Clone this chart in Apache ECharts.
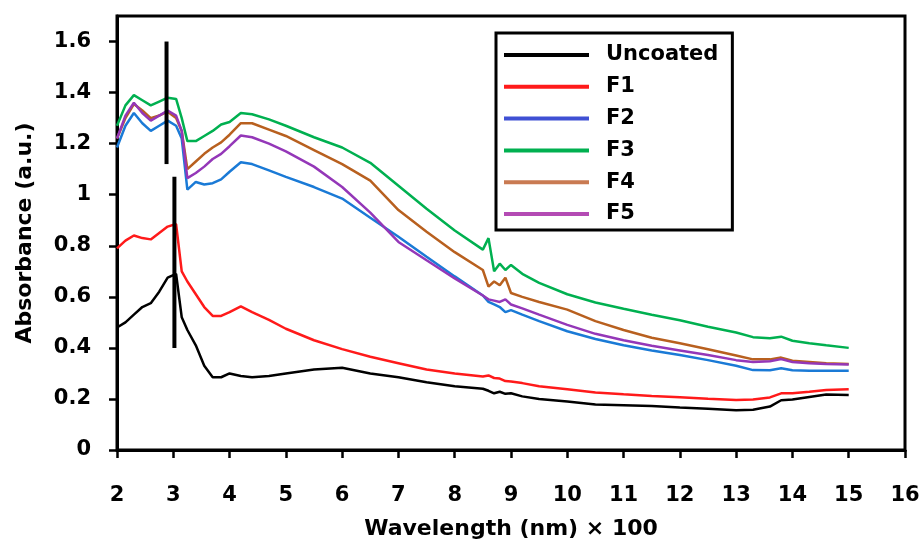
<!DOCTYPE html>
<html>
<head>
<meta charset="utf-8">
<script src="https://cdn.jsdelivr.net/npm/echarts@6/dist/echarts.min.js"></script>
<style>
  html, body { margin: 0; padding: 0; background: #fff; }
  #chart { width: 924px; height: 545px; }
</style>
</head>
<body>
<div id="chart"></div>
<script>
// wavelength (nm x 100), shared by all curves
var wavelength = [2.0, 2.15, 2.3, 2.45, 2.6, 2.75, 2.9, 3.05, 3.15, 3.25, 3.4, 3.55, 3.7, 3.85, 4.0, 4.2, 4.4, 4.7,
                  5.0, 5.5, 6.0, 6.5, 7.0, 7.5, 8.0, 8.5, 8.6, 8.7, 8.8, 8.9, 9.0, 9.2, 9.5, 10, 10.5, 11, 11.5,
                  12, 12.5, 13, 13.3, 13.6, 13.8, 14, 14.3, 14.6, 15];

var uncoated = [0.48, 0.50, 0.53, 0.56, 0.575, 0.62, 0.675, 0.69, 0.52, 0.47, 0.41, 0.33, 0.285, 0.285, 0.30, 0.29, 0.285, 0.29,
                0.30, 0.315, 0.322, 0.30, 0.285, 0.265, 0.25, 0.24, 0.232, 0.222, 0.228, 0.22, 0.222, 0.21, 0.20, 0.19, 0.178, 0.175, 0.172,
                0.166, 0.162, 0.156, 0.158, 0.17, 0.195, 0.198, 0.208, 0.217, 0.215];
var f1 = [0.79, 0.82, 0.84, 0.83, 0.825, 0.85, 0.875, 0.885, 0.70, 0.66, 0.61, 0.56, 0.525, 0.525, 0.54, 0.563, 0.54, 0.51,
          0.475, 0.43, 0.395, 0.365, 0.34, 0.315, 0.30, 0.288, 0.292, 0.282, 0.28, 0.27, 0.268, 0.262, 0.25, 0.238, 0.225, 0.218, 0.212,
          0.207, 0.201, 0.196, 0.198, 0.206, 0.222, 0.222, 0.228, 0.235, 0.238];
var f2 = [1.185, 1.27, 1.32, 1.28, 1.25, 1.27, 1.29, 1.27, 1.22, 1.02, 1.05, 1.04, 1.045, 1.06, 1.09, 1.127, 1.12, 1.095,
          1.07, 1.03, 0.985, 0.91, 0.835, 0.757, 0.68, 0.605, 0.58, 0.57, 0.56, 0.54, 0.548, 0.53, 0.505, 0.465, 0.435, 0.41, 0.39,
          0.372, 0.352, 0.33, 0.313, 0.312, 0.32, 0.312, 0.31, 0.31, 0.31];
var f3 = [1.27, 1.35, 1.39, 1.37, 1.35, 1.365, 1.38, 1.375, 1.30, 1.21, 1.21, 1.23, 1.25, 1.275, 1.285, 1.32, 1.315, 1.295,
          1.27, 1.225, 1.185, 1.125, 1.035, 0.945, 0.86, 0.785, 0.83, 0.70, 0.73, 0.705, 0.725, 0.69, 0.655, 0.61, 0.578, 0.553, 0.53,
          0.508, 0.483, 0.46, 0.442, 0.438, 0.444, 0.428, 0.418, 0.41, 0.40];
var f4 = [1.22, 1.30, 1.355, 1.33, 1.30, 1.31, 1.325, 1.30, 1.25, 1.10, 1.13, 1.16, 1.185, 1.205, 1.235, 1.28, 1.28, 1.255,
          1.23, 1.175, 1.12, 1.055, 0.94, 0.855, 0.775, 0.705, 0.64, 0.66, 0.645, 0.675, 0.615, 0.60, 0.58, 0.55, 0.505, 0.47, 0.44,
          0.418, 0.395, 0.37, 0.355, 0.355, 0.362, 0.35, 0.345, 0.34, 0.337];
var f5 = [1.22, 1.31, 1.36, 1.32, 1.29, 1.31, 1.33, 1.31, 1.25, 1.065, 1.085, 1.11, 1.14, 1.16, 1.19, 1.232, 1.225, 1.20,
          1.17, 1.11, 1.03, 0.93, 0.815, 0.743, 0.672, 0.605, 0.59, 0.585, 0.58, 0.59, 0.57, 0.555, 0.53, 0.49, 0.455, 0.43, 0.408,
          0.39, 0.372, 0.352, 0.345, 0.348, 0.356, 0.345, 0.34, 0.337, 0.335];

// the two black vertical marker bars
var barA = [[2.88, 1.12], [2.88, 1.6]];
var barB = [[3.02, 0.40], [3.02, 1.07]];

var yTicks = [0, 0.2, 0.4, 0.6, 0.8, 1, 1.2, 1.4, 1.6];

var seriesNames = ['Uncoated', 'F1', 'F2', 'F3', 'F4', 'F5'];
var seriesVals = [uncoated, f1, f2, f3, f4, f5];
var lineColors = ['#000000', '#ff1a1a', '#1a7ad6', '#00b050', '#b8601f', '#9437b8'];
var legendColors = ['#000000', '#ff1a1a', '#3f50d4', '#00b050', '#c97a52', '#b44bb4'];

function zip(xs, ys) {
    var out = [];
    for (var i = 0; i < xs.length; i++) out.push([xs[i], ys[i]]);
    return out;
}

var font = '"DejaVu Sans", sans-serif';
var labelStyle = { fontFamily: font, fontSize: 21, fontWeight: 'bold', color: '#000' };

var series = [];
for (var i = 0; i < seriesNames.length; i++) {
    series.push({
        name: seriesNames[i],
        type: 'line',
        data: zip(wavelength, seriesVals[i]),
        symbol: 'none',
        lineStyle: { width: 2.5, color: lineColors[i] },
        itemStyle: { color: lineColors[i] },
        z: 2
    });
}
[barA, barB].forEach(function(b) {
    series.push({
        type: 'line', data: b, symbol: 'none',
        lineStyle: { width: 4, color: '#000' }, z: 5, silent: true
    });
});

var legendData = seriesNames.map(function(n, i) {
    return { name: n, itemStyle: { color: legendColors[i] } };
});

var myChart = echarts.init(document.getElementById('chart'));
var option = {
    animation: false,
    backgroundColor: '#fff',
    textStyle: { fontFamily: font },
    grid: {
        left: 117, right: 19, top: 16, bottom: 95,
        containLabel: false,
        show: true, borderColor: '#000', borderWidth: 3
    },
    legend: {
        data: legendData,
        orient: 'vertical',
        left: 496, top: 33,
        icon: 'rect',
        itemWidth: 85, itemHeight: 4,
        itemGap: 9.8,
        padding: [11, 14, 5, 8],
        borderColor: '#000', borderWidth: 3,
        textStyle: { fontFamily: font, fontSize: 21, fontWeight: 'bold', color: '#000', lineHeight: 22, padding: [0, 0, 0, 12] }
    },
    xAxis: [{
        type: 'value', min: 2, max: 16, interval: 1,
        name: 'Wavelength (nm) \u00d7 100',
        nameLocation: 'middle', nameGap: 68,
        nameTextStyle: { fontFamily: font, fontSize: 22, fontWeight: 'bold', color: '#000' },
        axisLine: { lineStyle: { color: '#000', width: 3 } },
        axisTick: { show: true, inside: false, length: 8, lineStyle: { width: 2.5, color: '#000' } },
        axisLabel: { show: false },
        splitLine: { show: false }
    }, {
        // tick labels only, pushed down below the ticks
        type: 'value', min: 2, max: 16, interval: 1,
        position: 'bottom', offset: 35,
        axisLine: { show: false },
        axisTick: { show: false },
        axisLabel: Object.assign({ margin: 0 }, labelStyle),
        splitLine: { show: false }
    }],
    yAxis: {
        type: 'value', min: 0, max: 1.7, interval: 0.1,
        name: 'Absorbance (a.u.)',
        nameLocation: 'middle', nameGap: 81,
        nameTextStyle: { fontFamily: font, fontSize: 22, fontWeight: 'bold', color: '#000' },
        axisLine: { show: true, lineStyle: { color: '#000', width: 3 } },
        axisTick: { show: true, inside: false, length: 8, customValues: yTicks, lineStyle: { width: 2.5, color: '#000' } },
        axisLabel: Object.assign({ margin: 26, customValues: yTicks }, labelStyle),
        splitLine: { show: false }
    },
    series: series
};
myChart.setOption(option);
</script>
</body>
</html>
